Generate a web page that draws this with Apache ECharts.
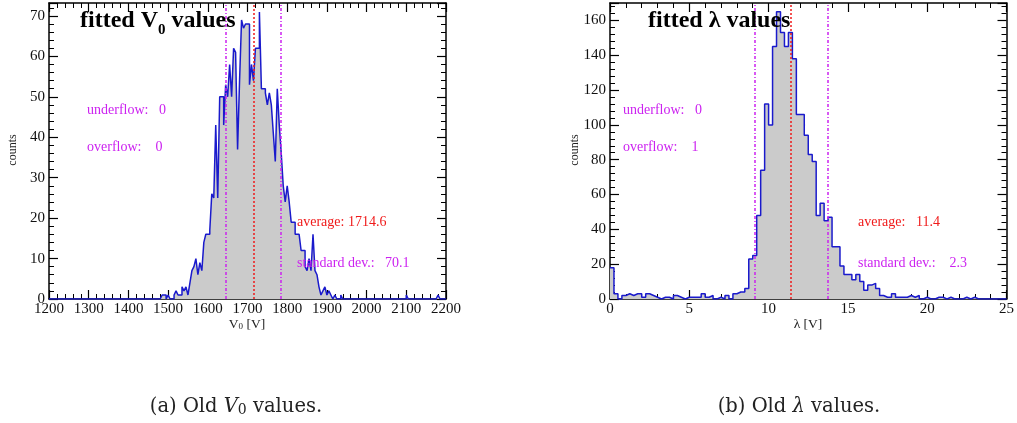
<!DOCTYPE html>
<html><head><meta charset="utf-8">
<script src="https://cdn.jsdelivr.net/npm/echarts@6/dist/echarts.min.js"></script>
<style>html,body{margin:0;padding:0;background:#fff}#c{width:1017px;height:423px}</style>
</head><body><div id="c"></div>
<script>
// ---------- data ----------
const v0BinStart = 1200, v0BinWidth = 5;
const v0Counts = [
  0,0,0,0,0,0,0,0,0,0,0,0,0,0,0,0,0,0,0,0,
  0,0,0,0,0,0,0,0,0,0,0,0,0,0,0,0,0,0,0,0,
  0,0,0,0,0,0,0,0,0,0,0,0,0,0,0,0,0,1,1,0,
  1,0,0,1,2,1,1,3,2,3,1,4,7,8,10,6,9,7,14,16,
  16,17,26,25,43,25,50,50,43,53,50,58,50,62,61,37,54,69,67,68,
  68,53,58,54,62,62,71,52,52,51,48,51,48,41,34,52,43,36,28,24,
  28,24,19,19,16,16,16,12,12,8,7,10,7,16,7,6,3,1,2,3,
  1,2,1,0,1,0,0,1,0,0,0,0,0,0,0,0,0,0,0,0,
  0,0,0,0,0,0,0,0,0,0,0,0,0,0,0,0,0,0,0,0,
  1,0,0,0,0,0,0,0,0,0,0,0,0,0,0,0,1,0,0,0
];
const v0Average = 1714.6, v0StdDev = 70.1, v0Underflow = 0, v0Overflow = 0;
const v0XRange = [1200, 2200], v0YRange = [0, 73.2];

const lamBinStart = 0, lamBinWidth = 0.25;
const lamCounts = [
  18,3,0,2,3,2,3,3,1,3,2,1,0,1,1,0,2,1,0,1,
  1,1,1,3,1,2,0,1,0,2,0,3,4,4,6,23,25,48,74,112,
  100,145,165,153,145,153,138,106,106,94,83,79,48,55,45,47,30,30,19,14,
  14,11,14,10,5,8,9,6,2,1,1,3,1,1,1,2,1,2,0,1,
  0,0,1,1,0,1,0,0,0,1,0,1,0,0,0,0,0,0,0,0
];
const lamAverage = 11.4, lamStdDev = 2.3, lamUnderflow = 0, lamOverflow = 1;
const lamXRange = [0, 25], lamYRange = [0, 170];

// ---------- helpers ----------
function stepData(start, w, counts) {
  const d = counts.map((c, i) => [start + i * w, c]);
  d.push([start + counts.length * w, 0]);
  return d;
}
const SERIF = '"Liberation Serif", "Times New Roman", serif';
const CAPF = '"DejaVu Serif", serif';
const MAG = '#cc22f0', RED = '#f01a1a', BLUE = '#1a1acc';

const mctx = document.createElement('canvas').getContext('2d');
function measure(text, font) { mctx.font = font; return mctx.measureText(text).width; }

function xAx(grid, range, interval, pos) {
  return {
    type: 'value', gridIndex: grid, min: range[0], max: range[1], interval: interval, position: pos,
    axisLine: { show: true, onZero: false, lineStyle: { color: '#000', width: 1.5 } },
    axisTick: { show: true, inside: true, length: 9, lineStyle: { color: '#000', width: 1.2 } },
    minorTick: { show: true, splitNumber: 5, length: 5, lineStyle: { color: '#000', width: 1 } },
    axisLabel: { show: pos === 'bottom', color: '#111', fontFamily: SERIF, fontSize: 15, margin: 3,
      showMaxLabel: true, showMinLabel: true, formatter: v => String(v) },
    splitLine: { show: false }
  };
}
function yAx(grid, range, interval, pos) {
  return {
    type: 'value', gridIndex: grid, min: range[0], max: range[1], interval: interval, position: pos,
    axisLine: { show: true, onZero: false, lineStyle: { color: '#000', width: 1.5 } },
    axisTick: { show: true, inside: true, length: 9, lineStyle: { color: '#000', width: 1.2 } },
    minorTick: { show: true, splitNumber: 5, length: 5, lineStyle: { color: '#000', width: 1 } },
    axisLabel: { show: pos === 'left', color: '#111', fontFamily: SERIF, fontSize: 15, margin: 4,
      showMaxLabel: false, formatter: v => String(v) },
    splitLine: { show: false }
  };
}
function histSeries(idx, data, avg, sd) {
  return {
    type: 'line', xAxisIndex: idx * 2, yAxisIndex: idx * 2, step: 'end', data: data,
    symbol: 'none', showSymbol: false, animation: false, z: 1,
    lineStyle: { color: BLUE, width: 1.5 },
    areaStyle: { color: '#cbcbcb', opacity: 1 },
    markLine: {
      silent: true, symbol: ['none', 'none'], label: { show: false }, animation: false,
      data: [
        { xAxis: avg, lineStyle: { color: RED, type: [2, 2], width: 1.5 } },
        { xAxis: avg - sd, lineStyle: { color: MAG, type: [3, 2, 1, 2], width: 1.5 } },
        { xAxis: avg + sd, lineStyle: { color: MAG, type: [3, 2, 1, 2], width: 1.5 } }
      ]
    }
  };
}
function txt(x, y, text, fill, size, weight) {
  return {
    type: 'text', x: x, y: y, z: 10,
    style: { text: text, fill: fill, fontFamily: SERIF, fontSize: size, fontWeight: weight || 'normal',
      align: 'left', verticalAlign: 'middle', textAlign: 'left', textVerticalAlign: 'middle' }
  };
}
function vtxt(x, y, text) {
  return {
    type: 'text', x: x, y: y, z: 10, rotation: Math.PI / 2,
    style: { text: text, fill: '#222', fontFamily: SERIF, fontSize: 12, align: 'center', verticalAlign: 'middle', textAlign: 'center', textVerticalAlign: 'middle' }
  };
}
function richTxt(x, y, text, rich, align) {
  return { type: 'text', x: x, y: y, z: 10,
    style: { text: text, rich: rich, align: align, verticalAlign: 'middle', textAlign: align, textVerticalAlign: 'middle' } };
}
const axisNameRich = {
  n: { fontFamily: SERIF, fontSize: 13.5, fill: '#222', color: '#222', lineHeight: 16, verticalAlign: 'bottom' },
  s: { fontFamily: SERIF, fontSize: 9, fill: '#222', color: '#222', lineHeight: 4, verticalAlign: 'bottom' }
};
const capRich = {
  n: { fontFamily: CAPF, fontSize: 19.5, fill: '#222', color: '#222', lineHeight: 24, verticalAlign: 'bottom' },
  i: { fontFamily: CAPF, fontSize: 19.5, fontStyle: 'italic', fill: '#222', color: '#222', lineHeight: 24, verticalAlign: 'bottom' },
  s: { fontFamily: CAPF, fontSize: 14, fill: '#222', color: '#222', lineHeight: 8, verticalAlign: 'bottom' }
};

// title with a real subscript
const titleFont = 'bold 24px "Liberation Serif"';
const subFont = 'bold 15px "Liberation Serif"';
const tx0 = 80, ty = 21;
const wMain = measure('fitted V', titleFont);
const wSub = measure('0', subFont);

const chart = echarts.init(document.getElementById('c'), null, { renderer: 'canvas' });
chart.setOption({
  animation: false,
  backgroundColor: '#fff',
  grid: [
    { left: 49, top: 3, width: 397, height: 296 },
    { left: 610, top: 3, width: 397, height: 296 }
  ],
  xAxis: [
    xAx(0, v0XRange, 100, 'bottom'), xAx(0, v0XRange, 100, 'top'),
    xAx(1, lamXRange, 5, 'bottom'), xAx(1, lamXRange, 5, 'top')
  ],
  yAxis: [
    yAx(0, v0YRange, 10, 'left'), yAx(0, v0YRange, 10, 'right'),
    yAx(1, lamYRange, 20, 'left'), yAx(1, lamYRange, 20, 'right')
  ],
  series: [
    histSeries(0, stepData(v0BinStart, v0BinWidth, v0Counts), v0Average, v0StdDev),
    histSeries(1, stepData(lamBinStart, lamBinWidth, lamCounts), lamAverage, lamStdDev)
  ],
  graphic: [
    txt(tx0, ty, 'fitted V', '#000', 24, 'bold'),
    txt(tx0 + wMain, ty + 9, '0', '#000', 15, 'bold'),
    txt(tx0 + wMain + wSub, ty, ' values', '#000', 24, 'bold'),
    txt(648, ty, 'fitted λ values', '#000', 24, 'bold'),
    txt(87, 110, 'underflow:   ' + v0Underflow, MAG, 14),
    txt(87, 147, 'overflow:    ' + v0Overflow, MAG, 14),
    txt(297, 222, 'average: ' + v0Average.toFixed(1), RED, 14),
    txt(297, 263, 'standard dev.:   ' + v0StdDev.toFixed(1), MAG, 14),
    txt(623, 110, 'underflow:   ' + lamUnderflow, MAG, 14),
    txt(623, 147, 'overflow:    ' + lamOverflow, MAG, 14),
    txt(858, 222, 'average:   ' + lamAverage.toFixed(1), RED, 14),
    txt(858, 263, 'standard dev.:    ' + lamStdDev.toFixed(1), MAG, 14),
    vtxt(13, 150, 'counts'),
    vtxt(575, 150, 'counts'),
    richTxt(247, 323, '{n|V}{s|0}{n| [V]}', axisNameRich, 'center'),
    richTxt(808, 323, '{n|λ [V]}', axisNameRich, 'center'),
    richTxt(236, 405, '{n|(a) Old }{i|V}{s|0}{n| values.}', capRich, 'center'),
    richTxt(799, 405, '{n|(b) Old }{i|λ}{n| values.}', capRich, 'center')
  ]
});
</script></body></html>
